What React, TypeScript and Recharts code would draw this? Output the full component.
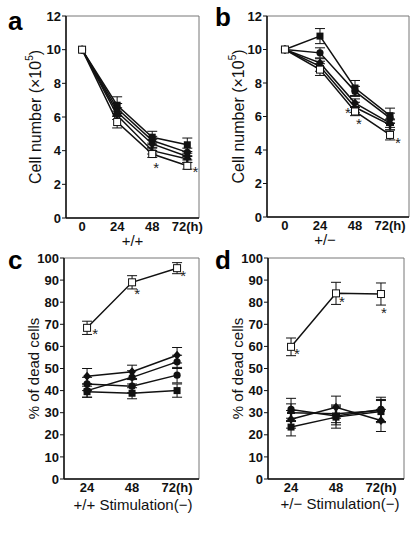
import React from 'react';
import { LineChart, Line, XAxis, YAxis, ErrorBar, ReferenceArea, Label } from 'recharts';

const FONT = 'Liberation Sans, Arial, Helvetica, sans-serif';

const HOURS_AB = [0, 24, 48, 72];
const HOURS_CD = [24, 48, 72];
const CELL_TICKS = [0, 2, 4, 6, 8, 10, 12];
const DEAD_TICKS = [0, 10, 20, 30, 40, 50, 60, 70, 80, 90, 100];

// a: +/+ cell number (x10^5)
const A_SQ = [10, 6.7, 4.8, 4.35];
const A_CI = [10, 6.5, 4.6, 3.9];
const A_DI = [10, 6.3, 4.4, 3.65];
const A_PL = [10, 6.1, 4.0, 3.5];
const A_OS = [10, 5.7, 3.8, 3.1];
const A_SQ_ERR = [0, 0.5, 0.35, 0.4];
const A_CI_ERR = [0, 0.3, 0.25, 0.25];
const A_DI_ERR = [0, 0.25, 0.25, 0.2];
const A_PL_ERR = [0, 0.25, 0.2, 0.2];
const A_OS_ERR = [0, 0.35, 0.2, 0.2];

// b: +/- cell number (x10^5)
const B_SQ = [10, 10.8, 7.7, 6.05];
const B_CI = [10, 9.8, 7.5, 5.9];
const B_DI = [10, 9.2, 6.8, 5.6];
const B_PL = [10, 9.0, 6.55, 5.5];
const B_OS = [10, 8.8, 6.3, 4.9];
const B_SQ_ERR = [0, 0.45, 0.45, 0.45];
const B_CI_ERR = [0, 0.3, 0.3, 0.3];
const B_DI_ERR = [0, 0.25, 0.25, 0.25];
const B_PL_ERR = [0, 0.3, 0.3, 0.3];
const B_OS_ERR = [0, 0.35, 0.25, 0.3];

// c: +/+ % of dead cells, no stimulation
const C_DI = [46.5, 48.5, 56];
const C_CI = [40, 46, 53];
const C_PL = [43, 42, 47];
const C_SQ = [39.5, 38.8, 40];
const C_OS = [68.4, 89, 95.4];
const C_DI_ERR = [3.5, 3, 3.5];
const C_CI_ERR = [3, 3, 3];
const C_PL_ERR = [3, 3, 3.5];
const C_SQ_ERR = [2.5, 2.5, 3];
const C_OS_ERR = [3, 3, 2.5];

// d: +/- % of dead cells, no stimulation
const D_SQ = [23.5, 28, 30.5];
const D_CI = [31.5, 28.5, 31.5];
const D_DI = [27, 32.5, 26.5];
const D_PL = [30, 29.5, 31];
const D_OS = [59.8, 84, 83.7];
const D_SQ_ERR = [4, 5, 5];
const D_CI_ERR = [5, 4, 5.5];
const D_DI_ERR = [4, 5, 5];
const D_PL_ERR = [4, 4, 5];
const D_OS_ERR = [4, 5, 5];

type Kind = 'sq' | 'ci' | 'di' | 'pl' | 'os';
type Series = { key: string; kind: Kind; stars?: Record<number, [number, number]> };

function buildRows(hours: number[], cols: Record<string, [number[], number[]]>) {
  return hours.map((h, i) => {
    const row: Record<string, number> = { h };
    Object.keys(cols).forEach((k) => {
      row[k] = cols[k][0][i];
      row[k + 'E'] = cols[k][1][i];
    });
    return row;
  });
}

const dataA = buildRows(HOURS_AB, {
  sq: [A_SQ, A_SQ_ERR], ci: [A_CI, A_CI_ERR], di: [A_DI, A_DI_ERR], pl: [A_PL, A_PL_ERR], os: [A_OS, A_OS_ERR],
});
const dataB = buildRows(HOURS_AB, {
  sq: [B_SQ, B_SQ_ERR], ci: [B_CI, B_CI_ERR], di: [B_DI, B_DI_ERR], pl: [B_PL, B_PL_ERR], os: [B_OS, B_OS_ERR],
});
const dataC = buildRows(HOURS_CD, {
  sq: [C_SQ, C_SQ_ERR], ci: [C_CI, C_CI_ERR], di: [C_DI, C_DI_ERR], pl: [C_PL, C_PL_ERR], os: [C_OS, C_OS_ERR],
});
const dataD = buildRows(HOURS_CD, {
  sq: [D_SQ, D_SQ_ERR], ci: [D_CI, D_CI_ERR], di: [D_DI, D_DI_ERR], pl: [D_PL, D_PL_ERR], os: [D_OS, D_OS_ERR],
});

const renderDot = (kind: Kind, stars?: Record<number, [number, number]>) => (p: any) => {
  const { cx, cy, index } = p;
  const key = `${kind}-${index}`;
  if (cx == null || cy == null) return <g key={key} />;
  const s = 3.5;
  let m: React.ReactNode = null;
  if (kind === 'sq') m = <rect x={cx - s} y={cy - s} width={2 * s} height={2 * s} fill="#111" />;
  if (kind === 'os') m = <rect x={cx - s} y={cy - s} width={2 * s} height={2 * s} fill="#fff" stroke="#111" strokeWidth={1} />;
  if (kind === 'ci') m = <circle cx={cx} cy={cy} r={3.6} fill="#111" />;
  if (kind === 'di') m = <path d={`M${cx},${cy - 4.5}L${cx + 4},${cy}L${cx},${cy + 4.5}L${cx - 4},${cy}Z`} fill="#111" />;
  if (kind === 'pl') m = <path d={`M${cx - 4},${cy}H${cx + 4}M${cx},${cy - 4}V${cy + 4}`} stroke="#111" strokeWidth={2.4} />;
  const st = stars ? stars[index] : undefined;
  return (
    <g key={key}>
      {m}
      {st && (
        <text x={cx + st[0]} y={cy + st[1] + 8} textAnchor="middle" fontSize={15} fontFamily={FONT} fill="#222">
          *
        </text>
      )}
    </g>
  );
};

interface PanelProps {
  width: number;
  height: number;
  margin: { top: number; right: number; left: number; bottom: number };
  data: Record<string, number>[];
  series: Series[];
  xDomain: [number, number];
  xTicks: number[];
  yDomain: [number, number];
  yTicks: number[];
  yTitle: 'cell' | 'dead';
  yTitleOff: number;
  yTitleSize: number;
  xTitle: string;
  xTitleDx: number;
  xTitleDy: number;
}

function Panel(props: PanelProps) {
  const { width, height, margin, data, series, xDomain, xTicks, yDomain, yTicks } = props;
  const tick = { fontSize: 13, fontWeight: 700, fill: '#111', fontFamily: FONT };
  return (
    <LineChart width={width} height={height} data={data} margin={margin}>
      <ReferenceArea
        x1={xDomain[0]}
        x2={xDomain[1]}
        y1={yDomain[0]}
        y2={yDomain[1]}
        fill="#fff"
        fillOpacity={0}
        stroke="#777"
        strokeWidth={1}
        ifOverflow="visible"
      />
      <XAxis
        dataKey="h"
        type="number"
        domain={xDomain}
        ticks={xTicks}
        allowDataOverflow
        interval={0}
        height={20}
        tickLine={false}
        tickSize={3}
        tickMargin={1}
        axisLine={{ stroke: '#111', strokeWidth: 1.5 }}
        tick={tick}
        tickFormatter={(v: number) => (v === 72 ? '72(h)' : String(v))}
      >
        <Label
          content={(lp: any) => {
            const vb = lp.viewBox || { x: 0, y: 0, width: 0, height: 0 };
            return (
              <text
                x={vb.x + vb.width / 2 + props.xTitleDx}
                y={vb.y + props.xTitleDy}
                textAnchor="middle"
                fontSize={15}
                fontFamily={FONT}
                fill="#111"
              >
                {props.xTitle}
              </text>
            );
          }}
        />
      </XAxis>
      <YAxis
        type="number"
        domain={yDomain}
        ticks={yTicks}
        allowDataOverflow
        interval={0}
        width={30}
        tickSize={4}
        tickMargin={1}
        tickLine={{ stroke: '#111' }}
        axisLine={{ stroke: '#111', strokeWidth: 1.5 }}
        tick={tick}
      >
        <Label
          content={(lp: any) => {
            const vb = lp.viewBox || { x: 0, y: 0, width: 0, height: 0 };
            const x = vb.x + vb.width - props.yTitleOff;
            const y = vb.y + vb.height / 2;
            return (
              <text
                x={x}
                y={y}
                transform={`rotate(-90 ${x} ${y})`}
                textAnchor="middle"
                dominantBaseline="central"
                fontSize={props.yTitleSize}
                fontFamily={FONT}
                fill="#111"
              >
                {props.yTitle === 'cell' ? (
                  <>
                    <tspan>Cell number (×10</tspan>
                    <tspan dy={-6} fontSize={10}>5</tspan>
                    <tspan dy={6}>)</tspan>
                  </>
                ) : (
                  '% of dead cells'
                )}
              </text>
            );
          }}
        />
      </YAxis>
      {series.map((s) => (
        <Line
          key={s.key}
          dataKey={s.key}
          stroke="#111"
          strokeWidth={1.5}
          dot={renderDot(s.kind, s.stars)}
          activeDot={false}
          isAnimationActive={false}
        >
          <ErrorBar dataKey={s.key + 'E'} direction="y" width={5} stroke="#111" strokeWidth={1} isAnimationActive={false} />
        </Line>
      ))}
    </LineChart>
  );
}

const letter = { position: 'absolute' as const, fontFamily: FONT, fontWeight: 700, fontSize: 26 };

export default function App() {
  return (
    <div style={{ position: 'absolute', left: 0, top: 0, width: 420, height: 534, background: '#fff' }}>
      <div style={{ position: 'absolute', left: 0, top: 0 }}>
        <Panel
          width={210}
          height={267}
          margin={{ top: 16, right: 11, left: 36, bottom: 29 }}
          data={dataA}
          series={[
            { key: 'sq', kind: 'sq' },
            { key: 'ci', kind: 'ci' },
            { key: 'di', kind: 'di' },
            { key: 'pl', kind: 'pl' },
            { key: 'os', kind: 'os', stars: { 2: [4, 11], 3: [8, 3] } },
          ]}
          xDomain={[-11, 80]}
          xTicks={HOURS_AB}
          yDomain={[0, 12]}
          yTicks={CELL_TICKS}
          yTitle="cell"
          yTitleOff={31}
          yTitleSize={16}
          xTitle="+/+"
          xTitleDx={0}
          xTitleDy={28}
        />
      </div>
      <div style={{ position: 'absolute', left: 210, top: 0 }}>
        <Panel
          width={210}
          height={267}
          margin={{ top: 16, right: 11, left: 27, bottom: 30 }}
          data={dataB}
          series={[
            { key: 'sq', kind: 'sq' },
            { key: 'ci', kind: 'ci' },
            { key: 'di', kind: 'di' },
            { key: 'pl', kind: 'pl', stars: { 2: [-7, 3] } },
            { key: 'os', kind: 'os', stars: { 2: [4, 10], 3: [8, 5] } },
          ]}
          xDomain={[-12.3, 85]}
          xTicks={HOURS_AB}
          yDomain={[0, 12]}
          yTicks={CELL_TICKS}
          yTitle="cell"
          yTitleOff={29}
          yTitleSize={16}
          xTitle="+/−"
          xTitleDx={-13}
          xTitleDy={28}
        />
      </div>
      <div style={{ position: 'absolute', left: 0, top: 250 }}>
        <Panel
          width={210}
          height={284}
          margin={{ top: 8, right: 11, left: 34, bottom: 35 }}
          data={dataC}
          series={[
            { key: 'sq', kind: 'sq' },
            { key: 'ci', kind: 'ci' },
            { key: 'di', kind: 'di' },
            { key: 'pl', kind: 'ci' },
            { key: 'os', kind: 'os', stars: { 0: [8, 3], 1: [5, 9], 2: [6, 5] } },
          ]}
          xDomain={[11.7, 83.7]}
          xTicks={HOURS_CD}
          yDomain={[0, 100]}
          yTicks={DEAD_TICKS}
          yTitle="dead"
          yTitleOff={31}
          yTitleSize={15}
          xTitle="+/+ Stimulation(−)"
          xTitleDx={1.5}
          xTitleDy={31}
        />
      </div>
      <div style={{ position: 'absolute', left: 210, top: 250 }}>
        <Panel
          width={210}
          height={284}
          margin={{ top: 8, right: 16, left: 28, bottom: 35 }}
          data={dataD}
          series={[
            { key: 'sq', kind: 'sq' },
            { key: 'ci', kind: 'ci' },
            { key: 'di', kind: 'di' },
            { key: 'pl', kind: 'pl' },
            { key: 'os', kind: 'os', stars: { 0: [6, 4], 1: [6, 6], 2: [3, 16] } },
          ]}
          xDomain={[11.7, 84.3]}
          xTicks={HOURS_CD}
          yDomain={[0, 100]}
          yTicks={DEAD_TICKS}
          yTitle="dead"
          yTitleOff={30.5}
          yTitleSize={15}
          xTitle="+/− Stimulation(−)"
          xTitleDx={4}
          xTitleDy={30}
        />
      </div>
      <div style={{ ...letter, left: 8, top: 8, lineHeight: '26px' }}>a</div>
      <div style={{ ...letter, left: 215, top: 4, lineHeight: '26px' }}>b</div>
      <div style={{ ...letter, left: 8, top: 247, lineHeight: '26px' }}>c</div>
      <div style={{ ...letter, left: 215, top: 247, lineHeight: '26px' }}>d</div>
    </div>
  );
}
